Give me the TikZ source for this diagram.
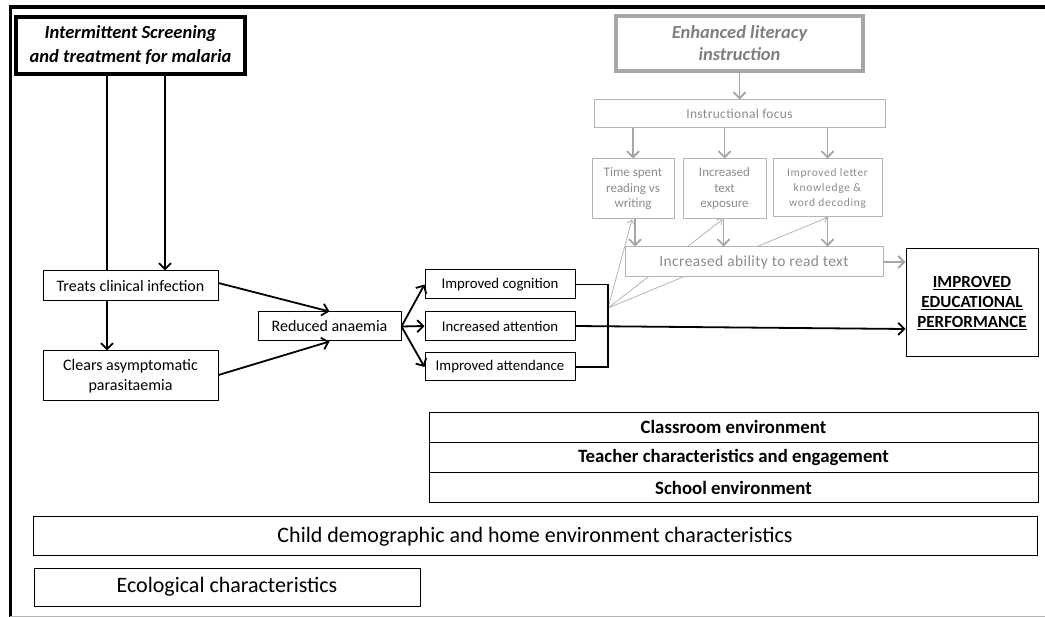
\documentclass[tikz,border=0pt]{standalone}
\usepackage{fontspec}
\setmainfont{Carlito}
\newfontfamily\spacedfont[LetterSpace=6]{Carlito}
\newfontfamily\lightspaced[LetterSpace=2.5]{Carlito}
\usetikzlibrary{arrows.meta}
\pgfdeclarelayer{background}
\pgfsetlayers{background,main}
\definecolor{lgray}{HTML}{B4B4B4}
\definecolor{mgray}{HTML}{A6A6A6}
\definecolor{tgray}{HTML}{8C8C8C}
\definecolor{dgray}{HTML}{7F7F7F}
\newcommand\fsz[2]{\fontsize{#1}{#2}\selectfont}

\begin{document}
\begin{tikzpicture}[x=1pt,y=-1pt,
  bx/.style={draw=black, line width=1pt, fill=white, inner sep=0pt, align=center},
  gbx/.style={draw=lgray, line width=1pt, fill=white, inner sep=0pt, align=center, text=tgray},
  arr/.style={line width=1.8pt, -{Straight Barb[length=6pt,width=12pt]}},
  garr/.style={draw=mgray, line width=1.8pt, -{Straight Barb[length=6pt,width=12pt]}},
  gline/.style={draw=lgray, line width=0.8pt, -{Straight Barb[length=4pt,width=7pt]}},
]
\useasboundingbox (0,0) rectangle (1045,617);

% outer frame
\draw[line width=4pt] (9,7) -- (1045,7);
\draw[line width=3pt] (10.5,5.5) -- (10.5,617);
\draw[lgray, line width=1pt] (10,616) -- (1045,616);

% malaria pathway
\node[bx, line width=4pt, minimum width=229pt, minimum height=57pt,
      font=\fsz{18.5}{24}\bfseries\itshape] (istm) at (130.5,45.5)
      {Intermittent Screening\\and treatment for malaria};
\node[bx, minimum width=175pt, minimum height=30pt, font=\fsz{16}{18}] (treats) at (130.5,286)
      {Treats clinical infection};
\node[bx, minimum width=175pt, minimum height=50pt, font=\fsz{16}{20}] (clears) at (130.5,376)
      {Clears asymptomatic\\parasitaemia};
\node[bx, minimum width=143pt, minimum height=29pt, font=\fsz{16}{18}] (reduced) at (329.5,326.5)
      {Reduced anaemia};
\node[bx, minimum width=150pt, minimum height=29pt, font=\fsz{14.8}{16}] (cog) at (500,284.5)
      {Improved cognition};
\node[bx, minimum width=150pt, minimum height=29pt, font=\fsz{14.8}{16}] (att) at (500,326)
      {Increased attention};
\node[bx, minimum width=150pt, minimum height=28pt, font=\fsz{14.8}{16}] (attd) at (500,367)
      {Improved attendance};
\node[bx, minimum width=132pt, minimum height=108pt, font=\fsz{17}{20}\bfseries] (iep) at (972,303)
      {\underline{IMPROVED}\\\underline{EDUCATIONAL}\\\underline{PERFORMANCE}};

% literacy pathway
\node[gbx, draw=mgray, line width=4pt, text=dgray, minimum width=247pt, minimum height=55pt,
      font=\fsz{18.5}{22}\bfseries\itshape] (eli) at (739.5,43.5)
      {Enhanced literacy\\instruction};
\node[gbx, minimum width=291pt, minimum height=28pt, font=\fsz{13.5}{15}\lightspaced] (focus) at (739.5,114)
      {Instructional focus};
\node[gbx, minimum width=82pt, minimum height=60pt, font=\fsz{13}{15.5}] (tsr) at (633,189)
      {Time spent\\reading vs\\writing};
\node[gbx, minimum width=83pt, minimum height=60pt, font=\fsz{13}{15.5}] (ite) at (724.5,189)
      {Increased\\text\\exposure};
\node[gbx, minimum width=109pt, minimum height=58pt, font=\fsz{11.5}{15}\spacedfont] (ilk) at (827.5,188)
      {Improved letter\\knowledge \&\\word decoding};
\node[gbx, minimum width=258pt, minimum height=30pt, font=\fsz{15.5}{18}\lightspaced] (ability) at (754,262)
      {Increased ability to read text};

% contextual factors
\node[bx, minimum width=609pt, minimum height=30.33pt, font=\fsz{18.8}{20}\bfseries] (class) at (733.5,427.2)
      {Classroom environment};
\node[bx, minimum width=609pt, minimum height=30.33pt, font=\fsz{18.8}{20}\bfseries] (teach) at (733.5,457.5)
      {Teacher characteristics and engagement};
\node[bx, minimum width=609pt, minimum height=30.33pt, font=\fsz{18.8}{20}\bfseries] (school) at (733.5,487.8)
      {School environment};
\node[bx, minimum width=1004pt, minimum height=39pt, font=\fsz{22}{24}] (child) at (535,536.5)
      {Child demographic and home environment characteristics};
\node[bx, minimum width=386pt, minimum height=38pt, font=\fsz{22}{24}] (eco) at (227,587)
      {Ecological characteristics};

% bracket joining the three outcomes
\coordinate (br) at (608,308);
\draw[line width=1.8pt] (cog.east) -| (br) |- (attd.east);

% connectors
\begin{pgfonlayer}{background}
  \draw[arr] ([xshift=-23.5pt]istm.south) -- ([xshift=-23.5pt]istm.south |- clears.north);
  \draw[gline] (br) -- ([xshift=-1pt]tsr.south);
  \draw[gline] (br) -- ([xshift=-2pt]ite.south);
  \draw[gline] (br) -- (ilk.south);
\end{pgfonlayer}
\draw[arr] ([xshift=34.5pt]istm.south) -- ([xshift=34.5pt]istm.south |- treats.north);
\draw[arr] ([yshift=3pt]treats.east) -- (reduced.north);
\draw[arr] ([yshift=1pt]clears.east) -- (reduced.south);
\draw[arr] (reduced.east) -- (cog.west);
\draw[arr] (reduced.east) -- (att.west);
\draw[arr] (reduced.east) -- (attd.west);
\draw[arr] (att.east) -- ([yshift=-3pt]att.east -| iep.west);

\draw[garr] (eli.south) -- (focus.north);
\draw[garr] (focus.south -| tsr.north) -- (tsr.north);
\draw[garr] (focus.south -| ite.north) -- (ite.north);
\draw[garr] (focus.south -| ilk.north) -- (ilk.north);
\draw[garr] ([xshift=2pt]tsr.south) -- ([xshift=2pt]tsr.south |- ability.north);
\draw[garr] ([xshift=-1pt]ite.south) -- ([xshift=-1pt]ite.south |- ability.north);
\draw[garr] (ilk.south) -- (ilk.south |- ability.north);
\draw[garr] (ability.east) -- (ability.east -| iep.west);
\end{tikzpicture}
\end{document}
